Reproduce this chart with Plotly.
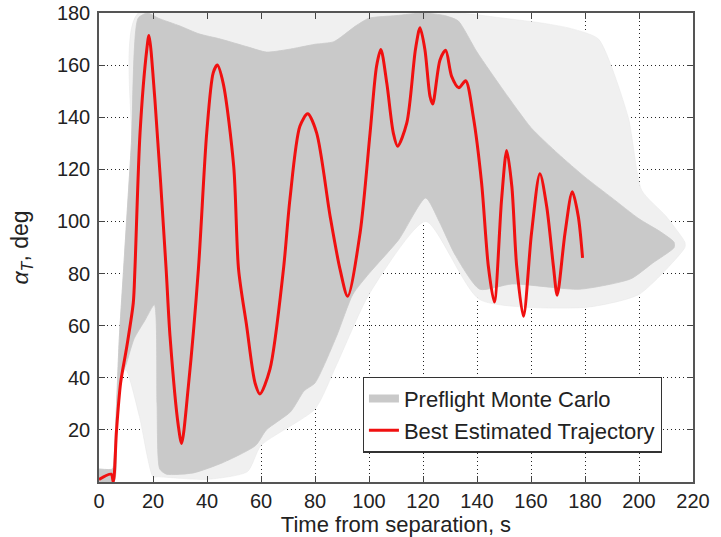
import plotly.graph_objects as go

# Best estimated trajectory (time s, total angle of attack deg)
bet_t = [0, 4.5, 5.3, 6.5, 8, 10.3, 12.7, 13.3, 15.2, 17.7, 18.5, 20.7, 24.8, 26.3, 29.4, 30.6,
         33.1, 36.8, 39.9, 42.3, 43.8, 46.0, 49.9, 51.7, 54.7, 57.8, 59.6, 63.3, 68.3, 70.7,
         74.4, 77.3, 80.6, 85.6, 89.3, 92.1, 96.7, 100.4, 102.8, 104.4, 106.6, 109.0, 110.6,
         114.0, 117.2, 118.9, 120.7, 122.6, 123.6, 126.3, 128.4, 130.6, 133.3, 135.8, 138.6,
         141.7, 144.2, 146.4, 149.1, 151.0, 152.9, 154.7, 157.2, 160.2, 163.3, 165.8, 168.3,
         169.7, 172.6, 175.3, 177.5, 179.1]
bet_a = [1, 3, 0, 20, 38, 52, 68.8, 81.5, 134, 166, 171.4, 146.8, 82.8, 56, 21.4, 14.8,
         36.8, 81.5, 134, 157, 160, 153, 121, 81.5, 59.8, 38, 33.8, 43.2, 81.5, 108.4,
         136.5, 141.3, 134, 102, 81.5, 71.3, 95.6, 134, 159.6, 166, 153, 134, 128.9,
         137.8, 166, 174.3, 166, 148, 145.1, 162, 165.7, 155.7, 151.3, 154, 140.4,
         114.8, 82.8, 69.1, 108.4, 127.2, 113.5, 82.8, 63.6, 95.6, 118.3, 105.8, 82.8,
         71.7, 95.6, 111.4, 102, 86]

# Dense Monte Carlo envelope
mc_up_t = [0, 5, 5.5, 6.5, 7.5, 9, 12, 14.5, 18, 22, 30, 37, 45, 55, 62, 70, 80, 87, 95, 100,
           110, 120, 128, 133, 140, 150, 160, 170, 180, 190, 200, 208, 213]
mc_up_a = [5, 5, 8, 30, 55, 80, 130, 178, 180, 178, 175, 172, 170, 167, 165, 166, 168, 169, 175,
           178, 179, 180, 179, 177, 165, 150, 136, 126, 117, 109, 101, 96, 92]
mc_lo_t = [0, 5.5, 6.5, 8, 10, 13, 17, 20.5, 21.5, 22.5, 25, 35, 46, 58, 62, 71, 76, 80, 88, 94,
           100, 111, 121, 126, 132, 141, 153, 178, 197, 205, 213]
mc_lo_a = [0, 0, 18, 40, 45, 55, 62, 68, 30, 5, 3, 3.5, 7.5, 14, 20, 27, 35, 38, 56, 72,
           80, 93, 109, 100, 87, 74, 76, 74, 78, 84, 90]

# Sparse (outlier) Monte Carlo envelope
sp_up_t = [0, 5, 5.5, 6.5, 7.5, 9, 12, 14.5, 133, 150, 165, 175, 185, 196, 201, 210, 217]
sp_up_a = [5, 5, 8, 30, 55, 80, 130, 180, 180, 178, 176, 174, 170, 140, 112, 102, 92]
sp_lo_t = [0, 5.5, 6.5, 8, 10, 15, 20, 22, 40, 55, 60, 80, 88, 100, 121, 141, 180, 200, 217]
sp_lo_a = [0, 0, 18, 40, 43, 25, 2, 2, 1, 4, 14, 28, 45, 72, 100, 70, 67, 72, 90]

x_ticks = list(range(0, 221, 20))
y_ticks = list(range(20, 181, 20))

fig = go.Figure()
fig.add_trace(go.Scatter(
    x=sp_up_t + sp_lo_t[::-1], y=sp_up_a + sp_lo_a[::-1],
    fill="toself", fillcolor="#f0f0f0",
    line=dict(width=0.5, color="#e6e6e6", shape="spline", smoothing=0.6),
    mode="lines", showlegend=False, hoverinfo="skip"))
fig.add_trace(go.Scatter(
    x=mc_up_t + mc_lo_t[::-1], y=mc_up_a + mc_lo_a[::-1],
    fill="toself", fillcolor="#c9c9c9",
    line=dict(width=0.8, color="#c9c9c9", shape="spline", smoothing=0.6),
    mode="lines", showlegend=False, hoverinfo="skip"))
# legend proxy for Monte Carlo
fig.add_trace(go.Scatter(x=[None], y=[None], mode="lines",
                         line=dict(color="#c9c9c9", width=8), name="Preflight Monte Carlo"))
fig.add_trace(go.Scatter(x=bet_t, y=bet_a, mode="lines",
                         line=dict(color="#f01010", width=3, shape="spline", smoothing=0.8),
                         name="Best Estimated Trajectory"))

axis_common = dict(showline=True, linecolor="#555555", linewidth=1.5, mirror="ticks",
                   ticks="inside", ticklen=6, tickcolor="#444444", tickwidth=1.3,
                   showgrid=True, gridcolor="#222222", griddash="1px,3px", gridwidth=1,
                   zeroline=False, tickfont=dict(size=20, color="#222222"),
                   automargin=False)

fig.update_xaxes(range=[0, 220], tickvals=x_ticks, ticktext=[str(v) for v in x_ticks],
                 ticklabelstandoff=0,
                 title=dict(text="Time from separation, s", font=dict(size=22, color="#222222"), standoff=10),
                 **axis_common)
fig.update_yaxes(range=[0, 180], tickvals=y_ticks, ticktext=[str(v) for v in y_ticks],
                 ticklabelstandoff=3,
                 title=dict(text="<i>α</i><sub><i>T</i></sub>, deg", font=dict(size=23, color="#222222"), standoff=22),
                 **axis_common)

fig.update_layout(
    width=721, height=537,
    margin=dict(l=99, r=28, t=13, b=55),
    paper_bgcolor="white", plot_bgcolor="white",
    font=dict(family="Liberation Sans, Arial, sans-serif", color="#222222"),
    legend=dict(x=0.444, y=0.2247, xanchor="left", yanchor="top",
                bgcolor="white", bordercolor="#333333", borderwidth=1.2,
                font=dict(size=22, color="#222222"), tracegroupgap=0, itemwidth=30),
)

# remove the default 8px page margin so the figure fills the window exactly
fig.write_html("out.html", config={"displayModeBar": False},
               post_script="document.body.style.margin='0';document.body.style.overflow='hidden';")
